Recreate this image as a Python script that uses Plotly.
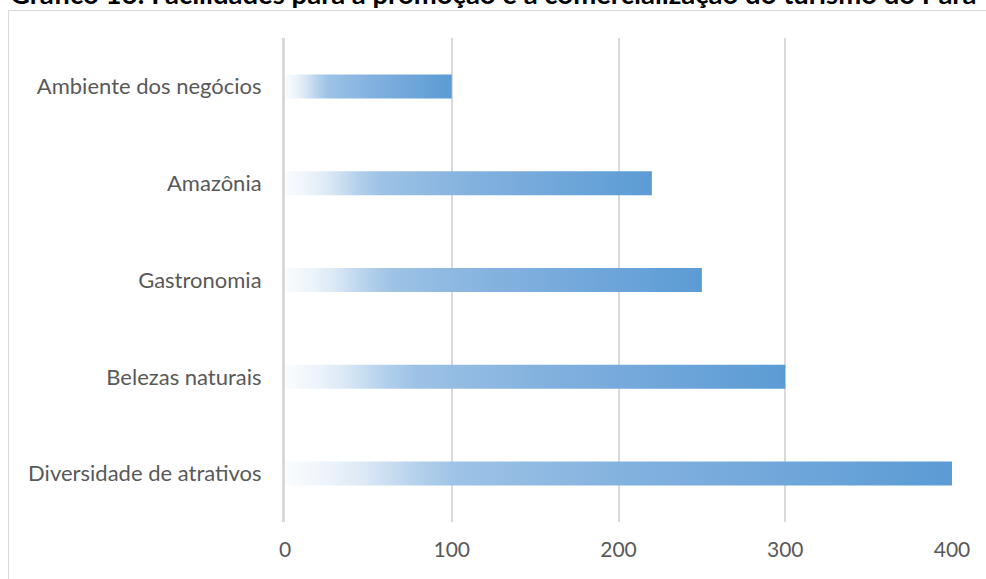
import plotly.graph_objects as go

# Categories listed top to bottom
categorias = [
    "Ambiente dos negócios",
    "Amazônia",
    "Gastronomia",
    "Belezas naturais",
    "Diversidade de atrativos",
]
valores = [100, 220, 250, 300, 400]
x_ticks = [0, 100, 200, 300, 400]

titulo = "Gráfico 16: Facilidades para a promoção e a comercialização do turismo do Pará"

FONT = "Lato"
TEXT_COLOR = "#595959"
GRID_COLOR = "#D9D9D9"
HALF_BAR = 0.124

# Excel-like light-to-dark blue gradient along each bar
gradiente = [
    [0.0, "#FAFCFE"],
    [0.06, "#EEF4FB"],
    [0.12, "#DBE8F5"],
    [0.2, "#B3D0EC"],
    [0.26, "#9DC2E6"],
    [0.5, "#84B2DF"],
    [1.0, "#5B9BD5"],
]

fig = go.Figure()
for i, (cat, v) in enumerate(zip(categorias, valores)):
    fig.add_trace(
        go.Scatter(
            x=[0, v, v, 0, 0],
            y=[i - HALF_BAR, i - HALF_BAR, i + HALF_BAR, i + HALF_BAR, i - HALF_BAR],
            mode="lines",
            line=dict(width=0),
            fill="toself",
            fillgradient=dict(type="horizontal", colorscale=gradiente),
            name=cat,
            hoverinfo="skip",
            showlegend=False,
        )
    )

fig.update_layout(
    width=986,
    height=579,
    margin=dict(l=285, r=34, t=38, b=57),
    paper_bgcolor="white",
    plot_bgcolor="white",
    font=dict(family=FONT, color=TEXT_COLOR, size=21),
    xaxis=dict(
        range=[0, 400],
        tickvals=x_ticks,
        showgrid=True,
        gridcolor=GRID_COLOR,
        gridwidth=2,
        zeroline=False,
        showline=False,
        ticks="",
        ticklabelstandoff=13,
        tickfont=dict(family=FONT, size=21, color=TEXT_COLOR),
    ),
    yaxis=dict(
        range=[4.5, -0.5],
        tickvals=list(range(len(categorias))),
        ticktext=categorias,
        showgrid=False,
        zeroline=False,
        showline=True,
        linecolor=GRID_COLOR,
        linewidth=3,
        ticks="",
        ticklabelstandoff=16,
        tickfont=dict(family=FONT, size=22, color=TEXT_COLOR),
    ),
    shapes=[
        dict(
            type="rect",
            xref="paper",
            yref="paper",
            x0=(8.5 - 285) / 667,
            x1=1.2,
            y0=-0.3,
            y1=(522 - 10.5) / 484,
            line=dict(color=GRID_COLOR, width=1),
            fillcolor="rgba(0,0,0,0)",
            layer="below",
        )
    ],
    annotations=[
        dict(
            text="<b>" + titulo + "</b>",
            xref="paper",
            yref="paper",
            x=(8 - 285) / 667,
            xanchor="left",
            y=(522 + 6.5) / 484,
            yanchor="middle",
            showarrow=False,
            font=dict(family=FONT, size=27.5, color="black"),
        )
    ],
)

fig.write_html("out.html")
